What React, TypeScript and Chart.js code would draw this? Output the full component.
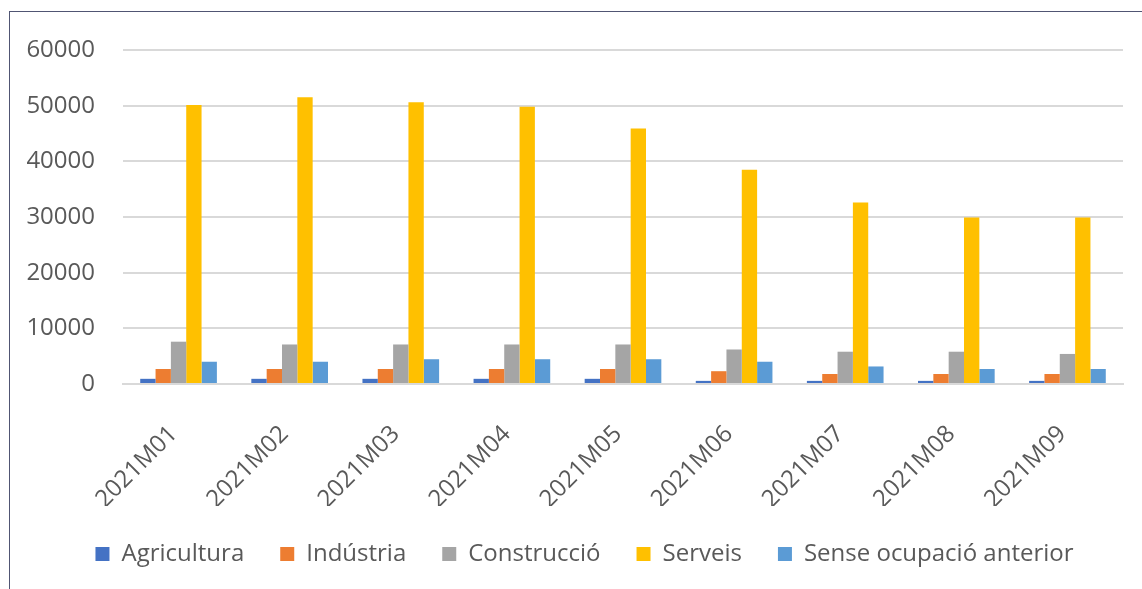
import React, { useEffect, useRef } from "react";
import { Chart, registerables } from "chart.js";

Chart.register(...registerables);

const categories = ["2021M01", "2021M02", "2021M03", "2021M04", "2021M05", "2021M06", "2021M07", "2021M08", "2021M09"];
const agricultura = [930, 930, 930, 930, 930, 560, 560, 560, 560];
const industria = [2700, 2700, 2700, 2700, 2700, 2300, 1800, 1800, 1800];
const construccio = [7600, 7100, 7100, 7100, 7100, 6200, 5800, 5800, 5400];
const serveis = [50100, 51500, 50600, 49800, 45900, 38500, 32600, 29900, 29900];
const senseOcupacio = [4000, 4000, 4450, 4450, 4450, 4000, 3150, 2700, 2700];
const seriesNames = ["Agricultura", "Indústria", "Construcció", "Serveis", "Sense ocupació anterior"];
const seriesColors = ["#4472C4", "#ED7D31", "#A5A5A5", "#FFC000", "#5B9BD5"];

const FONT = "'Open Sans', 'Noto Sans', sans-serif";
const TEXT = "#595959";

const shiftLegend = {
  id: "shiftLegend",
  afterLayout(chart: any) {
    if (chart.legend) {
      chart.legend.left += 18;
      chart.legend.right += 18;
    }
  },
};

export default function App() {
  const ref = useRef<HTMLCanvasElement | null>(null);
  useEffect(() => {
    if (!ref.current) return;
    const values = [agricultura, industria, construccio, serveis, senseOcupacio];
    const chart = new Chart(ref.current, {
      type: "bar",
      data: {
        labels: categories,
        datasets: values.map((v, i) => ({
          label: seriesNames[i],
          data: v,
          backgroundColor: seriesColors[i],
          borderWidth: 0,
          barPercentage: 1,
          categoryPercentage: 0.69,
        })),
      },
      plugins: [shiftLegend],
      options: {
        animation: false,
        responsive: false,
        maintainAspectRatio: false,
        layout: { padding: { top: 38, right: 19, bottom: 26, left: 0 } },
        plugins: {
          tooltip: { enabled: false },
          legend: {
            position: "bottom",
            labels: {
              boxWidth: 14,
              boxHeight: 14,
              padding: 36,
              color: TEXT,
              font: { family: FONT, size: 24 },
            },
          },
        },
        scales: {
          x: {
            grid: { display: false, drawTicks: false },
            border: { color: "#D9D9D9", width: 2 },
            ticks: {
              color: TEXT,
              font: { family: FONT, size: 24 },
              minRotation: 45,
              maxRotation: 45,
              padding: 36,
              labelOffset: -5,
            },
            afterFit: (s: any) => {
              s.height = 122;
            },
          },
          y: {
            min: 0,
            max: 60000,
            grid: {
              color: "#D9D9D9",
              lineWidth: 2,
              drawTicks: true,
              tickLength: 28,
              tickColor: "rgba(0,0,0,0)",
            },
            border: { display: false },
            ticks: {
              stepSize: 10000,
              color: TEXT,
              padding: 0,
              font: { family: FONT, size: 24 },
              callback: (v: any) => String(v),
            },
            afterFit: (s: any) => {
              s.width = 113;
            },
          },
        },
      },
    });
    return () => chart.destroy();
  }, []);
  return (
    <div
      style={{
        position: "fixed",
        left: 9,
        top: 11,
        width: 1140,
        height: 600,
        borderLeft: "1px solid #505573",
        borderTop: "1px solid #505573",
        background: "#fff",
      }}
    >
      <canvas ref={ref} width={1132} height={590} style={{ display: "block" }} />
    </div>
  );
}
